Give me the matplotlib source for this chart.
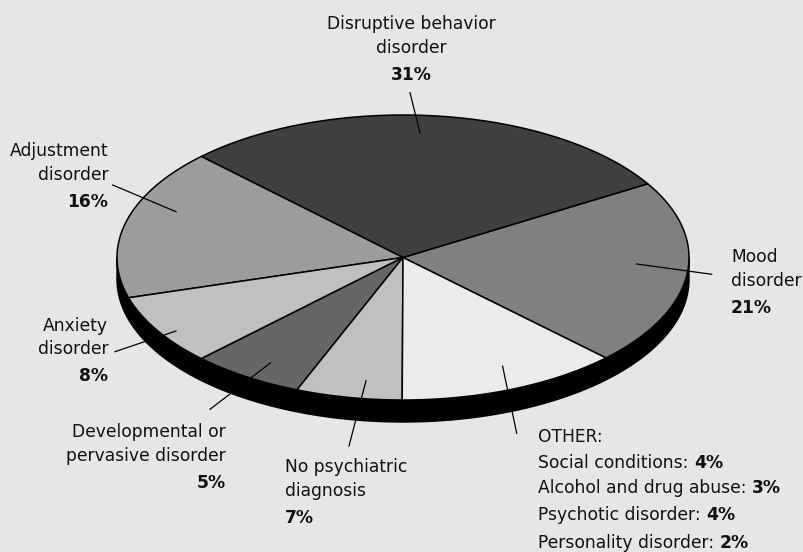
import matplotlib.pyplot as plt
import numpy as np

# slice order: counterclockwise starting at the lower right edge
categories = ["Mood disorder", "Disruptive behavior disorder", "Adjustment disorder",
              "Anxiety disorder", "Developmental or pervasive disorder",
              "No psychiatric diagnosis", "OTHER"]
# share of the pie as drawn in the picture (%)
slice_share = [21.1, 28.8, 17.1, 8.0, 6.4, 6.0, 12.6]
# percentages printed on the labels
pct_labels = ["21%", "31%", "16%", "8%", "5%", "7%", None]
slice_colors = ["#808080", "#404040", "#9c9c9c", "#c0c0c0", "#666666", "#c0c0c0", "#ebebeb"]

other_names = ["Social conditions", "Alcohol and drug abuse", "Psychotic disorder",
               "Personality disorder"]
other_pcts = ["4%", "3%", "4%", "2%"]

BG = "#e6e6e6"
CX, CY, A, B = 403, 257.5, 286, 142.5
DEPTH = 22
START = 315.2
FS = 12.3


def ell(t_deg, f=1.0):
    t = np.radians(t_deg)
    return CX + f * A * np.cos(t), CY - f * B * np.sin(t)


fig = plt.figure(figsize=(8.04, 5.52), dpi=100, facecolor=BG)
ax = fig.add_axes([0, 0, 1, 1])
ax.set_xlim(0, 804)
ax.set_ylim(552, 0)
ax.axis("off")
ax.set_facecolor(BG)

# black side of the disc
t = np.linspace(180, 360, 200)
x, y = ell(t)
ax.fill(np.r_[x, x[::-1]], np.r_[y, y[::-1] + DEPTH], color="black", lw=1, ec="black", zorder=1)

# top face slices
edges = START + np.cumsum([0] + slice_share) * 3.6
for i, col in enumerate(slice_colors):
    tt = np.linspace(edges[i], edges[i + 1], 100)
    px, py = ell(tt)
    ax.fill(np.r_[CX, px, CX], np.r_[CY, py, CY], facecolor=col, edgecolor="black",
            lw=1.1, joinstyle="round", zorder=2)

# leader lines (outer end, inner end) and label layout
leaders = [((711.7, 274.3), (636.7, 264)), ((410, 92.7), (420, 132.7)),
           ((112.7, 185), (176, 211.7)), ((115, 351.7), (176, 331)),
           ((210, 409.3), (270.7, 362.7)), ((349, 446), (366, 380.7)),
           ((516.7, 433.3), (502.6, 366.2))]
for (x0, y0), (x1, y1) in leaders:
    ax.plot([x0, x1], [y0, y1], color="black", lw=0.9, zorder=3)

label_lines = [["Mood", "disorder"], ["Disruptive behavior", "disorder"],
               ["Adjustment", "disorder"], ["Anxiety", "disorder"],
               ["Developmental or", "pervasive disorder"], ["No psychiatric", "diagnosis"]]
label_pos = [(731, "left", [261.7, 286, 312.7]), (411.3, "center", [29.3, 53.3, 80]),
             (108.3, "right", [156, 180, 207]), (108.3, "right", [331, 354.3, 380.7]),
             (225.7, "right", [436.7, 461, 488.3]), (285, "left", [471.7, 496, 523.3])]
for lines, pct, (lx, ha, ys) in zip(label_lines, pct_labels, label_pos):
    for s, yy in zip(lines, ys):
        ax.text(lx, yy, s, ha=ha, va="baseline", fontsize=FS, color="#111111")
    ax.text(lx, ys[-1], pct, ha=ha, va="baseline", fontsize=FS, fontweight="bold",
            color="#111111")

# OTHER block
ox = 538.3
oy = [441.7, 467.7, 493.3, 520, 547.7]
ax.text(ox, oy[0], "OTHER:", ha="left", va="baseline", fontsize=FS, color="#111111")
for name, pct, yy in zip(other_names, other_pcts, oy[1:]):
    t1 = ax.text(ox, yy, name + ": ", ha="left", va="baseline", fontsize=FS, color="#111111")
    ax.annotate(pct, xy=(1, 0), xycoords=t1, ha="left", va="bottom", fontsize=FS,
                fontweight="bold", color="#111111")

fig.savefig("out.png", dpi=100, facecolor=BG)
